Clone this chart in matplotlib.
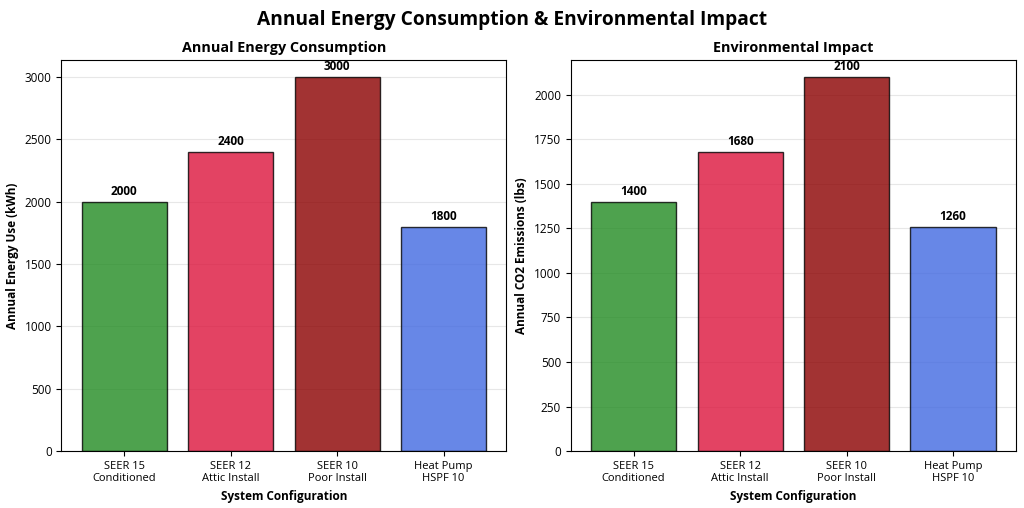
import matplotlib
matplotlib.use("Agg")
import matplotlib.pyplot as plt
import numpy as np

plt.rcParams['font.family'] = ['Open Sans', 'DejaVu Sans']

categories = ["SEER 15\nConditioned", "SEER 12\nAttic Install", "SEER 10\nPoor Install", "Heat Pump\nHSPF 10"]
energy_kwh = [2000, 2400, 3000, 1800]
co2_lbs = [1400, 1680, 2100, 1260]
colors = ["forestgreen", "crimson", "darkred", "royalblue"]

fig, axes = plt.subplots(1, 2, figsize=(10.24, 5.08), dpi=100)
fig.suptitle("Annual Energy Consumption & Environmental Impact", fontsize=13.8, fontweight='bold')

def draw(ax, vals, title, ylabel, off):
    x = np.arange(len(categories))
    bars = ax.bar(x, vals, color=colors, alpha=0.8, edgecolor='black', linewidth=1)
    ax.set_xticks(x)
    ax.set_xticklabels(categories, fontsize=8)
    ax.tick_params(axis='y', labelsize=8.5)
    ax.set_title(title, fontsize=10.4, fontweight='bold')
    ax.set_ylabel(ylabel, fontsize=8.5, fontweight='bold')
    ax.set_xlabel("System Configuration", fontsize=8.5, fontweight='bold')
    ax.grid(axis='y', alpha=0.3)
    ax.set_axisbelow(True)
    ax.set_ylim(0, max(vals) * 1.045)
    for b, v in zip(bars, vals):
        ax.text(b.get_x() + b.get_width() / 2, v + off, f"{v}", ha='center', va='bottom',
                fontsize=8.5, fontweight='bold')

draw(axes[0], energy_kwh, "Annual Energy Consumption", "Annual Energy Use (kWh)", 30)
draw(axes[1], co2_lbs, "Environmental Impact", "Annual CO2 Emissions (lbs)", 21)

fig.subplots_adjust(left=0.06, right=0.992, top=0.882, bottom=0.112, wspace=0.145)
fig.savefig("out.png", dpi=100)
